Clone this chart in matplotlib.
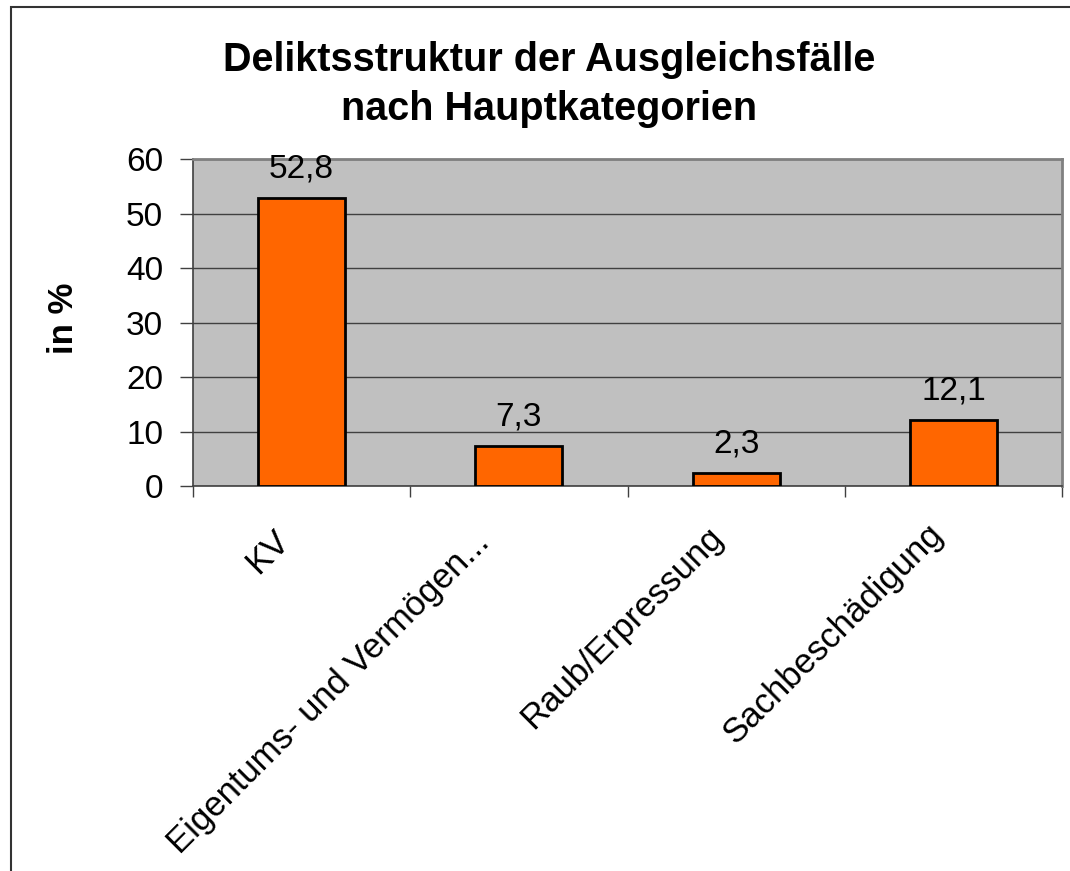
import matplotlib
matplotlib.use("Agg")
from matplotlib import pyplot as plt
from matplotlib.patches import Rectangle
import matplotlib.transforms as mtransforms
import numpy as np

plt.rcParams['font.family'] = ['Liberation Sans', 'DejaVu Sans']

# Daten
kategorien = ["KV", "Eigentums- und Vermögen...", "Raub/Erpressung", "Sachbeschädigung"]
werte = [52.8, 7.3, 2.3, 12.1]
werte_text = ["52,8", "7,3", "2,3", "12,1"]
y_ticks = [0, 10, 20, 30, 40, 50, 60]

# Verschiebung der gedrehten Beschriftungen (Pixel)
label_dx = [-29, -46, -30, -27]
label_dy = [38, 40, 34, 32]

fig = plt.figure(figsize=(10.7, 8.71), dpi=100)
ax = fig.add_axes([193/1070, 1-486/871, (1062-193)/1070, (486-159)/871])

x = np.arange(len(kategorien))
ax.set_facecolor("#c0c0c0")
ax.bar(x, werte, width=0.4, color="#ff6600", edgecolor="black", linewidth=2, zorder=3)

for xi, w, t in zip(x, werte, werte_text):
	ax.annotate(t, (xi, w), xytext=(0, 15), textcoords="offset points",
				ha="center", va="baseline", fontsize=24)

ax.set_xlim(-0.5, len(kategorien) - 0.5)
ax.set_ylim(0, 60)
ax.set_yticks(y_ticks)
ax.tick_params(axis="y", labelsize=24, length=9.5, width=1, color="#404040", pad=12)
ax.yaxis.grid(True, color="#404040", linewidth=1)
ax.set_axisbelow(True)

# Striche zwischen den Kategorien
ax.set_xticks(np.arange(len(kategorien) + 1) - 0.5)
ax.set_xticklabels([])
ax.tick_params(axis="x", length=8, width=1, color="#404040")

# Kategorien schräg
for xi, lab, dx, dy in zip(x, kategorien, label_dx, label_dy):
	off = mtransforms.ScaledTranslation(dx/100, -dy/100, fig.dpi_scale_trans)
	ax.text(xi, 0, lab, transform=ax.get_xaxis_transform() + off,
			rotation=45, rotation_mode="anchor", ha="right", va="top", fontsize=25)

for s in ["left", "bottom"]:
	ax.spines[s].set_color("#404040")
	ax.spines[s].set_linewidth(1.2)
for s in ["top", "right"]:
	ax.spines[s].set_color("#808080")
	ax.spines[s].set_linewidth(2)

ax.set_ylabel("in %", fontsize=25, fontweight="bold")
ax.yaxis.set_label_coords(-113/869, 0.514)

fig.text(549/1070, 1-71/871, "Deliktsstruktur der Ausgleichsfälle",
		 ha="center", va="baseline", fontsize=28.5, fontweight="bold")
fig.text(549/1070, 1-120/871, "nach Hauptkategorien",
		 ha="center", va="baseline", fontsize=28.5, fontweight="bold")

# Rahmen
fig.patches.append(Rectangle((11/1070, -0.05), 1.1, 1-7/871+0.05, transform=fig.transFigure,
							 fill=False, edgecolor="#333333", linewidth=1.5, clip_on=False))

fig.savefig("out.png", dpi=100)
